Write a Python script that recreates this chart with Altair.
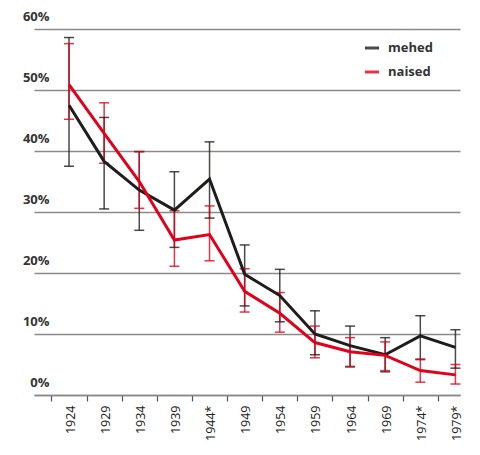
import json
import altair as alt
import pandas as pd

years = ["1924", "1929", "1934", "1939", "1944*", "1949", "1954", "1959", "1964", "1969", "1974*", "1979*"]
groups = ["mehed", "naised"]

men = [47.5, 38.3, 33.6, 30.3, 35.4, 19.8, 16.3, 10.0, 8.1, 6.6, 9.7, 7.8]
men_lo = [37.5, 30.5, 27.0, 24.2, 29.0, 14.6, 12.0, 6.6, 4.6, 3.8, 5.8, 4.4]
men_hi = [58.6, 45.5, 39.9, 36.6, 41.5, 24.6, 20.6, 13.8, 11.3, 9.4, 13.0, 10.7]

women = [50.9, 42.9, 35.0, 25.4, 26.3, 17.0, 13.4, 8.6, 7.1, 6.5, 4.0, 3.3]
women_lo = [45.2, 38.0, 30.6, 21.1, 22.0, 13.6, 10.3, 6.1, 4.7, 4.0, 2.1, 1.8]
women_hi = [57.6, 47.9, 39.9, 30.2, 31.0, 20.7, 16.8, 11.3, 9.4, 8.7, 5.9, 5.0]

y_ticks = [0, 10, 20, 30, 40, 50, 60]

rows = []
for g, vals, los, his in [("mehed", men, men_lo, men_hi), ("naised", women, women_lo, women_hi)]:
    for i, (v, lo, hi) in enumerate(zip(vals, los, his)):
        rows.append({"idx": i, "year": years[i], "group": g, "value": v, "lo": lo, "hi": hi})
df = pd.DataFrame(rows)

W, H = 426, 366
FONT = "Open Sans"
step = W / (len(years) + 0.13)

label_expr = json.dumps(years) + "[round(datum.value + 0.5)]"

x_enc = alt.X(
    "idx:Q",
    scale=alt.Scale(domain=[-0.997, 11.13], nice=False, zero=False),
    axis=alt.Axis(
        values=[i - 0.5 for i in range(len(years))],
        labelExpr=label_expr,
        labelAngle=270,
        labelOffset=step / 2 + 1,
        labelPadding=4,
        labelFont=FONT,
        labelFontSize=12.5,
        labelColor="#222222",
        labelFlush=False,
        labelOverlap=False,
        tickSize=6,
        tickColor="#555555",
        tickWidth=1.2,
        domainColor="#888888",
        domainWidth=1.5,
        grid=False,
        title=None,
    ),
)

y_scale = alt.Scale(domain=[0, 60], nice=False)
y_axis = alt.Axis(
    values=y_ticks,
    labelExpr="datum.value + '%'",
    labelFont=FONT,
    labelFontSize=13,
    labelFontWeight="bold",
    labelColor="#333333",
    labelAlign="right",
    labelBaseline="alphabetic",
    labelOffset=-9,
    labelPadding=-15,
    labelFlush=False,
    labelOverlap=False,
    ticks=False,
    tickSize=0,
    domain=False,
    grid=True,
    gridColor="#8a8a8a",
    gridWidth=1.5,
    title=None,
)

color = alt.Color(
    "group:N",
    scale=alt.Scale(domain=groups, range=["#1d1d1b", "#e2001a"]),
    legend=alt.Legend(
        title=None,
        orient="none",
        legendX=329,
        legendY=10,
        symbolType="stroke",
        symbolStrokeWidth=3,
        symbolSize=200,
        labelFont=FONT,
        labelFontSize=13,
        labelFontWeight="bold",
        labelColor="#333333",
        labelOffset=7,
        rowPadding=8,
        padding=0,
    ),
)

base = alt.Chart(df)

err_rule = base.mark_rule(strokeWidth=1.5, opacity=0.8).encode(
    x=x_enc, y=alt.Y("lo:Q", scale=y_scale, axis=y_axis), y2="hi:Q", color=color
)
err_lo = base.mark_tick(orient="horizontal", size=10, thickness=1.5, opacity=0.8).encode(
    x=x_enc, y=alt.Y("lo:Q", scale=y_scale), color=color
)
err_hi = base.mark_tick(orient="horizontal", size=10, thickness=1.5, opacity=0.8).encode(
    x=x_enc, y=alt.Y("hi:Q", scale=y_scale), color=color
)
lines = base.mark_line(strokeWidth=3).encode(
    x=x_enc, y=alt.Y("value:Q", scale=y_scale), color=color, order="idx:Q"
)
sep = alt.Chart(pd.DataFrame({"a": [0]})).mark_rule(color="#999999", strokeWidth=1.5).encode(
    x=alt.value(-23), x2=alt.value(438), y=alt.value(H + 57)
)

chart = (
    alt.layer(err_rule, err_lo, err_hi, lines, sep)
    .properties(
        width=W,
        height=H,
        autosize=alt.AutoSizeParams(type="none"),
        padding={"left": 26, "top": 21, "right": 12, "bottom": 52},
    )
    .configure_view(stroke=None)
)

chart.save("out.html", embed_options={"renderer": "svg", "actions": False})
